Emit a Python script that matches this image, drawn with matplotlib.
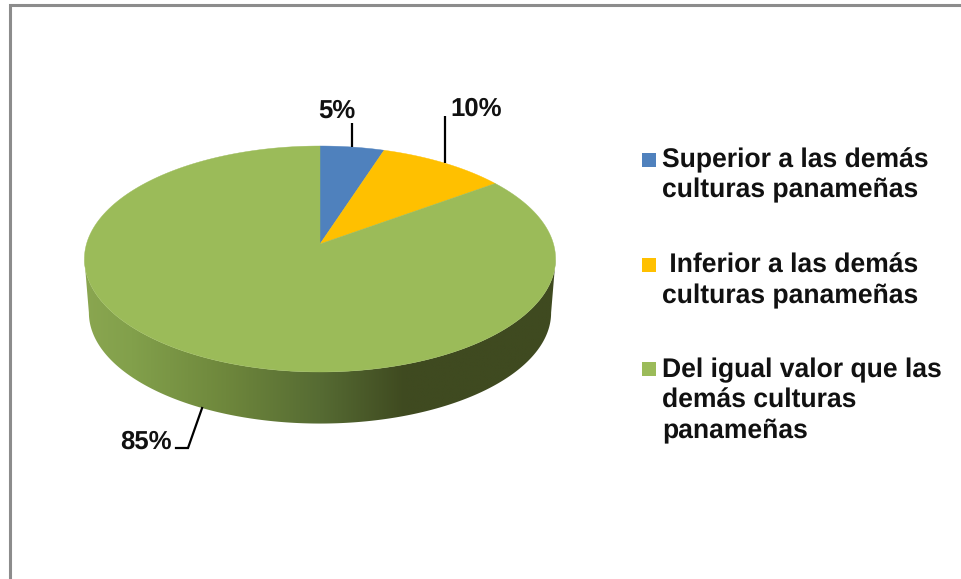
import numpy as np
import matplotlib
import matplotlib.pyplot as plt
from matplotlib.colors import LinearSegmentedColormap
from matplotlib.patches import Polygon, Rectangle

matplotlib.use("Agg")
plt.rcParams["font.family"] = ["Liberation Sans", "DejaVu Sans"]
plt.rcParams["text.hinting"] = "none"

labels = [
    "Superior a las demás\nculturas panameñas",
    " Inferior a las demás\nculturas panameñas",
    "Del igual valor que las\ndemás culturas\npanameñas",
]
values = [5, 10, 85]
value_labels = ["5%", "10%", "85%"]
colors = ["#4f81bd", "#ffc000", "#9bbb59"]

# geometry of the tilted pie, in pixels
cx, cy = 320, 244
rx, ry = 233.5, 111
persp = 0.1327
depth_y, depth_scale = 298, 0.981


def project(t, scale=1.0, y0=cy):
    # t is clockwise from 12 o'clock, the back of the disc looks smaller
    u, v = np.sin(t), np.cos(t)
    w = 1 + persp * v
    return cx + scale * rx * u / w, y0 - scale * ry * v / w


fig = plt.figure(figsize=(9.61, 5.79), dpi=100)
ax = fig.add_axes([0, 0, 1, 1])

# side of the cylinder, gradient clipped to the visible wall
t_edge = np.arccos(-persp)
t_side = np.linspace(t_edge, 2 * np.pi - t_edge, 300)
top_x, top_y = project(t_side)
low_x, low_y = project(t_side, depth_scale, depth_y)
wall = Polygon(
    np.r_[np.c_[top_x, top_y], np.c_[low_x, low_y][::-1]],
    closed=True, facecolor="none", edgecolor="none",
)
ax.add_patch(wall)
side_cmap = LinearSegmentedColormap.from_list(
    "side",
    [
        (0.0, "#8aa650"),
        (0.10, "#82a04b"),
        (0.30, "#6e873c"),
        (0.50, "#566b33"),
        (0.68, "#3f4a20"),
        (1.0, "#3f4a20"),
    ],
)
img = ax.imshow(
    np.linspace(0, 1, 256)[None, :], cmap=side_cmap, aspect="auto",
    extent=[84, 556, 450, 240], interpolation="bilinear",
)
img.set_clip_path(wall)

# top of the pie
edges = np.deg2rad(np.r_[0, np.cumsum(values)] * 3.6)
for i, color in enumerate(colors):
    t = np.linspace(edges[i], edges[i + 1], 200)
    x, y = project(t)
    ax.add_patch(
        Polygon(np.c_[np.r_[cx, x], np.r_[cy, y]], closed=True,
                facecolor=color, edgecolor=color, linewidth=0.3)
    )

# leader lines start at the middle of each slice
mids = (edges[:-1] + edges[1:]) / 2
x0, y0 = project(mids[0])
ax.plot([x0, x0], [y0, 123], color="black", lw=1.6, solid_capstyle="butt")
x1, y1 = project(mids[1])
ax.plot([x1 + 1.5, x1 + 1.5], [y1, 116], color="black", lw=1.6, solid_capstyle="butt")
x2, y2 = project(mids[2], depth_scale, depth_y)
ax.plot([x2, 188, 176], [y2, 448, 448], color="black", lw=1.6, solid_joinstyle="miter")

label_pos = [(318, 118), (450, 116), (120, 449)]
for text, (tx, ty) in zip(value_labels, label_pos):
    ax.text(tx, ty, text, fontsize=18.5, fontweight="bold", color="#111111",
            ha="left", va="baseline")

# legend drawn by hand so every line sits where it does in the original
legend_box_y = [153, 258, 362]
legend_first_line = [167, 273, 377]
for label, color, by, ty in zip(labels, colors, legend_box_y, legend_first_line):
    ax.add_patch(Rectangle((642, by), 13.5, 13.5, facecolor=color, edgecolor="none"))
    for n, line in enumerate(label.split("\n")):
        ax.text(662, ty + n * 30.5, line, fontsize=19.1, fontweight="bold",
                color="#111111", ha="left", va="baseline")

# frame, only top and left are in the crop
ax.plot([9.5, 9.5, 961], [579, 5, 5], color="#8c8c8c", lw=2.2, solid_joinstyle="miter")

ax.set_xlim(0, 961)
ax.set_ylim(579, 0)
ax.axis("off")
fig.savefig("out.png", dpi=100, facecolor="white")
plt.close(fig)
